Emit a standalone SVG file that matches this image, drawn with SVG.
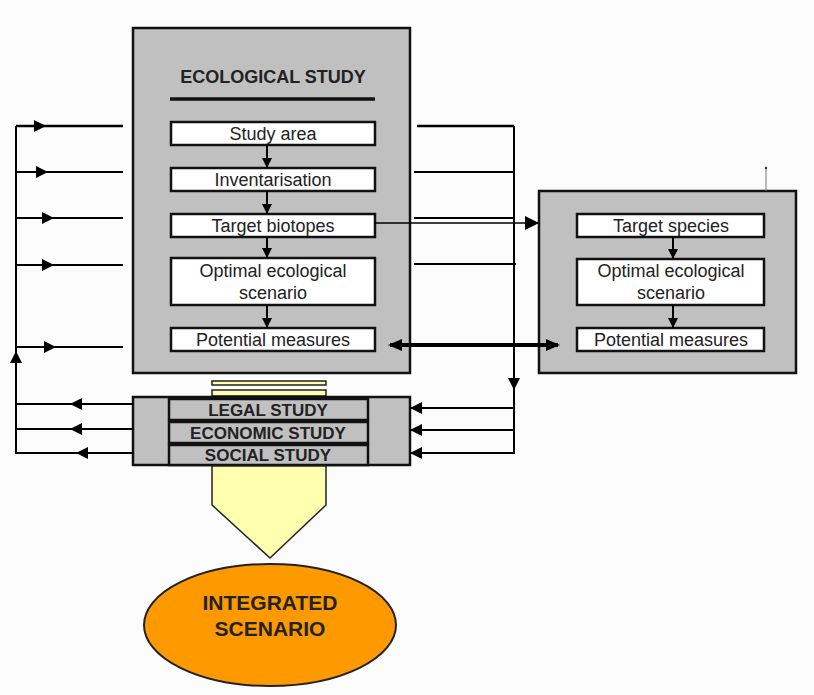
<svg xmlns="http://www.w3.org/2000/svg" width="814" height="695" viewBox="0 0 814 695">
<defs>
<marker id="ah" viewBox="0 0 10 10" refX="10" refY="5" markerWidth="10" markerHeight="10" markerUnits="userSpaceOnUse" orient="auto"><path d="M0,0 L10,5 L0,10 z" fill="#000"/></marker>
<marker id="ahb" viewBox="0 0 10 10" refX="10" refY="5" markerWidth="14" markerHeight="14" markerUnits="userSpaceOnUse" orient="auto"><path d="M0,0 L10,5 L0,10 z" fill="#000"/></marker>
</defs>
<style>
.panel{fill:#c0c0c0;stroke:#111;stroke-width:2.5}
.box{fill:#fff;stroke:#111;stroke-width:2.5}
.sbox{fill:#c0c0c0;stroke:#111;stroke-width:2.5}
.t{font-family:"Liberation Sans",Arial,sans-serif;font-size:18px;fill:#222;text-anchor:middle}
.b{font-family:"Liberation Sans",Arial,sans-serif;font-size:18px;font-weight:bold;fill:#222;text-anchor:middle}
.ln{stroke:#000;stroke-width:2;fill:none}
.yl{fill:#ffffb0;stroke:#222;stroke-width:1.5}
</style>
<rect width="814" height="695" fill="#fcfcfc"/>

<g id="ecological-study">
<rect class="panel" x="133" y="28" width="277" height="345"/>
<text class="b" x="273" y="83">ECOLOGICAL STUDY</text>
<line x1="170" y1="99" x2="375" y2="99" stroke="#111" stroke-width="3.5"/>
</g>
<g id="study-area"><rect class="box" x="171" y="122" width="204" height="23"/><text class="t" x="273" y="140">Study area</text></g>
<g id="inventarisation"><rect class="box" x="171" y="168" width="204" height="23"/><text class="t" x="273" y="186">Inventarisation</text></g>
<g id="target-biotopes"><rect class="box" x="171" y="214" width="204" height="23"/><text class="t" x="273" y="232">Target biotopes</text></g>
<g id="optimal-eco-1"><rect class="box" x="171" y="258" width="204" height="47"/><text class="t" x="273" y="277">Optimal ecological</text><text class="t" x="273" y="299">scenario</text></g>
<g id="potential-measures-1"><rect class="box" x="171" y="328" width="204" height="23"/><text class="t" x="273" y="346">Potential measures</text></g>

<g id="species-study">
<rect class="panel" x="539" y="191" width="257" height="182"/>
<line x1="766" y1="168" x2="766" y2="191" stroke="#777" stroke-width="1"/>
<circle cx="766" cy="168" r="1.2" fill="#333"/>
</g>
<g id="target-species"><rect class="box" x="577" y="214" width="187" height="23"/><text class="t" x="671" y="232">Target species</text></g>
<g id="optimal-eco-2"><rect class="box" x="577" y="259" width="187" height="46"/><text class="t" x="671" y="277">Optimal ecological</text><text class="t" x="671" y="299">scenario</text></g>
<g id="potential-measures-2"><rect class="box" x="577" y="328" width="187" height="23"/><text class="t" x="671" y="346">Potential measures</text></g>

<g id="yellow-bars">
<rect class="yl" x="212" y="381" width="114" height="4"/>
<rect class="yl" x="212" y="390" width="114" height="6"/>
</g>

<g id="other-studies">
<rect class="panel" x="133" y="397" width="277" height="68"/>
<rect class="sbox" x="169" y="399" width="199" height="21"/><text class="b" x="268" y="416" style="font-size:17px">LEGAL STUDY</text>
<rect class="sbox" x="169" y="422" width="199" height="21"/><text class="b" x="268" y="439" style="font-size:17px">ECONOMIC STUDY</text>
<rect class="sbox" x="169" y="445" width="199" height="20"/><text class="b" x="268" y="461" style="font-size:17px">SOCIAL STUDY</text>
</g>

<g id="output-arrow">
<path class="yl" d="M212,466 L326,466 L326,505 L270,558 L212,505 z"/>
</g>

<g id="integrated-scenario">
<ellipse cx="270" cy="625" rx="126" ry="61" fill="#ff9900" stroke="#222" stroke-width="2"/>
<text class="b" x="270" y="610" style="font-size:21px">INTEGRATED</text>
<text class="b" x="270" y="636" style="font-size:21px">SCENARIO</text>
</g>

<g id="connectors">
<line class="ln" x1="267" y1="145" x2="267" y2="168" marker-end="url(#ah)"/>
<line class="ln" x1="267" y1="191" x2="267" y2="214" marker-end="url(#ah)"/>
<line class="ln" x1="267" y1="237" x2="267" y2="258" marker-end="url(#ah)"/>
<line class="ln" x1="267" y1="305" x2="267" y2="328" marker-end="url(#ah)"/>
<line class="ln" x1="673" y1="237" x2="673" y2="259" marker-end="url(#ah)"/>
<line class="ln" x1="673" y1="305" x2="673" y2="328" marker-end="url(#ah)"/>
<line x1="375" y1="223" x2="539" y2="223" stroke="#000" stroke-width="1.5" marker-end="url(#ahb)"/>
<line x1="390" y1="345" x2="558" y2="345" stroke="#000" stroke-width="4"/>
<path d="M388,345 L402,339 L402,351 z" fill="#000"/>
<path d="M560,345 L546,339 L546,351 z" fill="#000"/>
<line class="ln" x1="16" y1="126" x2="16" y2="454"/>
<path d="M16,351 L10,363 L22,363 z" fill="#000"/>
<line x1="16" y1="126" x2="123" y2="126" stroke="#000" stroke-width="2.5"/>
<line class="ln" x1="16" y1="172" x2="123" y2="172"/>
<line class="ln" x1="16" y1="218" x2="123" y2="218"/>
<line class="ln" x1="16" y1="265" x2="123" y2="265"/>
<line class="ln" x1="16" y1="347" x2="123" y2="347"/>
<path d="M34,120 L46,126 L34,132 z" fill="#000"/>
<path d="M36,166 L48,172 L36,178 z" fill="#000"/>
<path d="M42,212 L54,218 L42,224 z" fill="#000"/>
<path d="M42,259 L54,265 L42,271 z" fill="#000"/>
<path d="M44,341 L56,347 L44,353 z" fill="#000"/>
<line class="ln" x1="133" y1="404" x2="16" y2="404"/>
<line class="ln" x1="133" y1="429" x2="16" y2="429"/>
<line class="ln" x1="133" y1="453" x2="16" y2="453"/>
<path d="M70,404 L82,398 L82,410 z" fill="#000"/>
<path d="M70,429 L82,423 L82,435 z" fill="#000"/>
<path d="M76,453 L88,447 L88,459 z" fill="#000"/>
<line x1="417" y1="126" x2="514" y2="126" stroke="#000" stroke-width="2.5"/>
<line class="ln" x1="414" y1="172" x2="514" y2="172"/>
<line class="ln" x1="414" y1="218" x2="514" y2="218"/>
<line class="ln" x1="414" y1="264" x2="516" y2="264"/>
<line class="ln" x1="514" y1="126" x2="514" y2="454"/>
<path d="M514,390 L508,378 L520,378 z" fill="#000"/>
<line class="ln" x1="514" y1="408" x2="410" y2="408"/>
<line class="ln" x1="514" y1="430" x2="410" y2="430"/>
<line class="ln" x1="514" y1="453" x2="410" y2="453"/>
<path d="M410,408 L422,402 L422,414 z" fill="#000"/>
<path d="M410,430 L422,424 L422,436 z" fill="#000"/>
<path d="M410,453 L422,447 L422,459 z" fill="#000"/>
</g>
</svg>
